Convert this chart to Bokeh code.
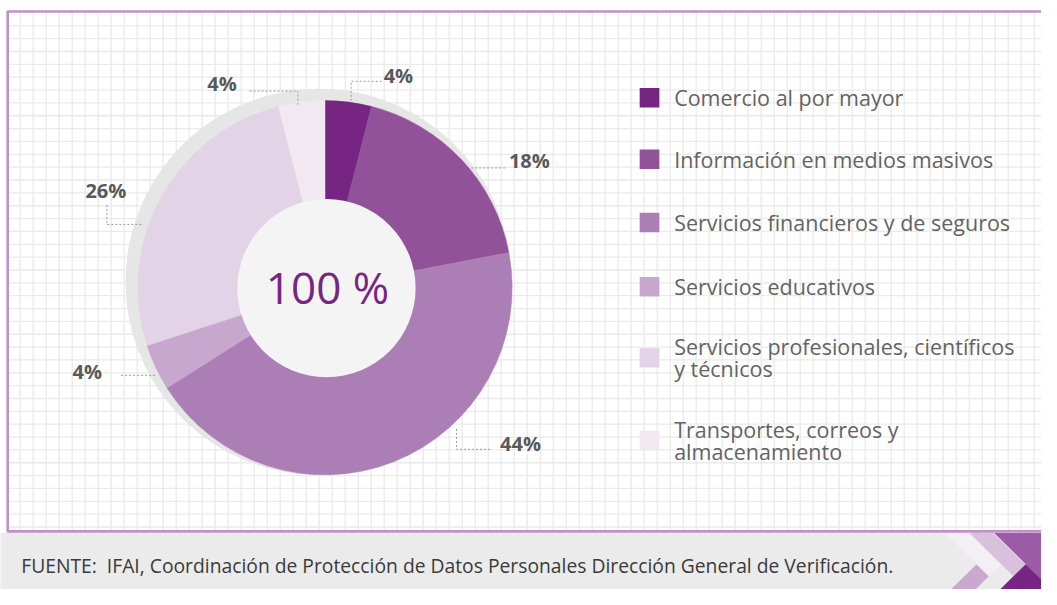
import numpy as np
from bokeh.plotting import figure
from bokeh.models import Range1d, ColumnDataSource
from bokeh.embed import file_html
from bokeh.resources import INLINE
from bokeh.core.properties import value

# ---------------- data ----------------
categories = [
    "Comercio al por mayor",
    "Información en medios masivos",
    "Servicios financieros y de seguros",
    "Servicios educativos",
    "Servicios profesionales, científicos\ny técnicos",
    "Transportes, correos y\nalmacenamiento",
]
shares = [4, 18, 44, 4, 26, 4]
colors = ["#772583", "#91529a", "#ab7fb5", "#c8a7ce", "#e2d4e6", "#f1e8f2"]
center_label = "100 %"
source_note = ("FUENTE:\u00a0 IFAI, Coordinación de Protección de Datos Personales "
               "Dirección General de Verificación.")

# ---------------- layout (reference pixel coords, y downwards) ----------------
W, H = 1041, 589
FONT = value("Open Sans")


def Y(ry):
    return 605 - np.asarray(ry, dtype=float)


p = figure(width=W, height=H, x_range=Range1d(0, 1057), y_range=Range1d(0, 605),
           output_backend="svg", toolbar_location=None, min_border=0)
p.axis.visible = False
p.grid.visible = False
p.outline_line_color = None
p.background_fill_color = "white"
p.border_fill_color = "white"

# background grid inside the frame
gx = np.arange(20, 1060, 13.2)
gy = np.arange(26, 545, 13.2)
p.segment(x0=gx, y0=[Y(12)] * len(gx), x1=gx, y1=[Y(544)] * len(gx),
          line_color="#eaeaea", line_width=1.3)
p.segment(x0=[7] * len(gy), y0=Y(gy), x1=[1060] * len(gy), y1=Y(gy),
          line_color="#eaeaea", line_width=1.3)

# frame border
p.line(x=[1060, 7.3, 7.3, 1060], y=Y([11.3, 11.3, 545.3, 545.3]),
       line_color="#c190c9", line_width=2.6)

# footer band
p.quad(left=[-5], right=[1065], top=[Y(547)], bottom=[Y(612)],
       fill_color="#ebebeb", line_color=None)
p.text(x=[21], y=[Y(580)], text=[source_note], text_font=FONT,
       text_font_size="19.3px", text_color="#3a3a3a", text_baseline="middle",
       text_align="left")


# chevrons (decoration)
def band_chevron(dx):
    a, b = 412 + dx, 436 + dx
    s1, s2 = 1570 + 2 * dx, 1595 + 2 * dx
    up = [((a + 547), 547), ((b + 547), 547), ((b + s2) / 2, (s2 - b) / 2), ((a + s2) / 2, (s2 - a) / 2)]
    lo = [((a + s1) / 2, (s1 - a) / 2), ((a + s2) / 2, (s2 - a) / 2), (s2 - 605, 605), (s1 - 605, 605)]
    return up, lo


up1, lo1 = band_chevron(0)
up2, lo2 = band_chevron(25)
up3 = [(1009, 547), (1080, 547), (1080, 620), (1041, 579)]
lo3 = [(1041, 579), (1080, 618), (1080, 620), (1015, 605)]
shapes = [lo1, up1, lo2, up2, up3, lo3]
shape_cols = ["#c9a9cf", "#f4eef6", "#b98cc2", "#d9c0dd", "#9b5ba6", "#772583"]
p.patches(xs=[[pt[0] for pt in s] for s in shapes],
          ys=[list(Y([pt[1] for pt in s])) for s in shapes],
          fill_color=shape_cols, line_color=None)

# ---------------- donut ----------------
CX, CY, R = 329.5, 295, 190
p.circle(x=[323], y=[Y(289)], radius=196, fill_color="#e6e6e6", line_color=None)

vals = np.array(shares, dtype=float)
frac = vals / vals.sum()
cum = np.concatenate([[0], np.cumsum(frac)])
start = np.pi / 2 - 2 * np.pi * cum[:-1]
end = np.pi / 2 - 2 * np.pi * cum[1:]
src = ColumnDataSource(dict(start=start, end=end, color=colors))
p.wedge(x=CX, y=float(Y(CY)), radius=R, start_angle="start", end_angle="end",
        direction="clock", fill_color="color", line_color="color", line_width=0.5,
        source=src)
p.circle(x=[331], y=[Y(295.5)], radius=90.5, fill_color="#f4f4f4", line_color=None)
p.text(x=[332], y=[Y(294)], text=[center_label], text_font=FONT,
       text_font_size="44px", text_color="#772583", text_align="center",
       text_baseline="middle")

# percentage labels with dotted leaders
label_pos = [(404, 77), (537, 164), (528, 455), (88, 381), (107, 195), (225, 85)]
leaders = [
    [(356, 103), (356, 83), (389, 83)],
    [(478, 172), (513, 172)],
    [(463, 440), (463, 461), (498, 461)],
    [(157, 385), (122, 385)],
    [(143, 230), (108, 230), (108, 209)],
    [(302, 107), (302, 93), (253, 93)],
]
p.multi_line(xs=[[q[0] for q in l] for l in leaders],
             ys=[list(Y([q[1] for q in l])) for l in leaders],
             line_color="#9a9a9a", line_width=1, line_dash="2 2")
p.text(x=[q[0] for q in label_pos], y=Y([q[1] for q in label_pos]),
       text=[f"{v}%" for v in shares], text_font=FONT, text_font_size="20px",
       text_font_style="bold", text_color="#595959", text_align="center",
       text_baseline="middle")

# ---------------- legend ----------------
leg_y = [100, 163, 228, 294, 367, 452]
p.rect(x=[659] * len(categories), y=Y(leg_y), width=20, height=20,
       fill_color=colors, line_color=None)
p.text(x=[684] * len(categories), y=Y(leg_y), text=categories,
       text_font=FONT, text_font_size="21.5px", text_color="#636363",
       text_align="left", text_baseline="middle", text_line_height=0.76)

open("out.html", "w").write(file_html(p, INLINE))
